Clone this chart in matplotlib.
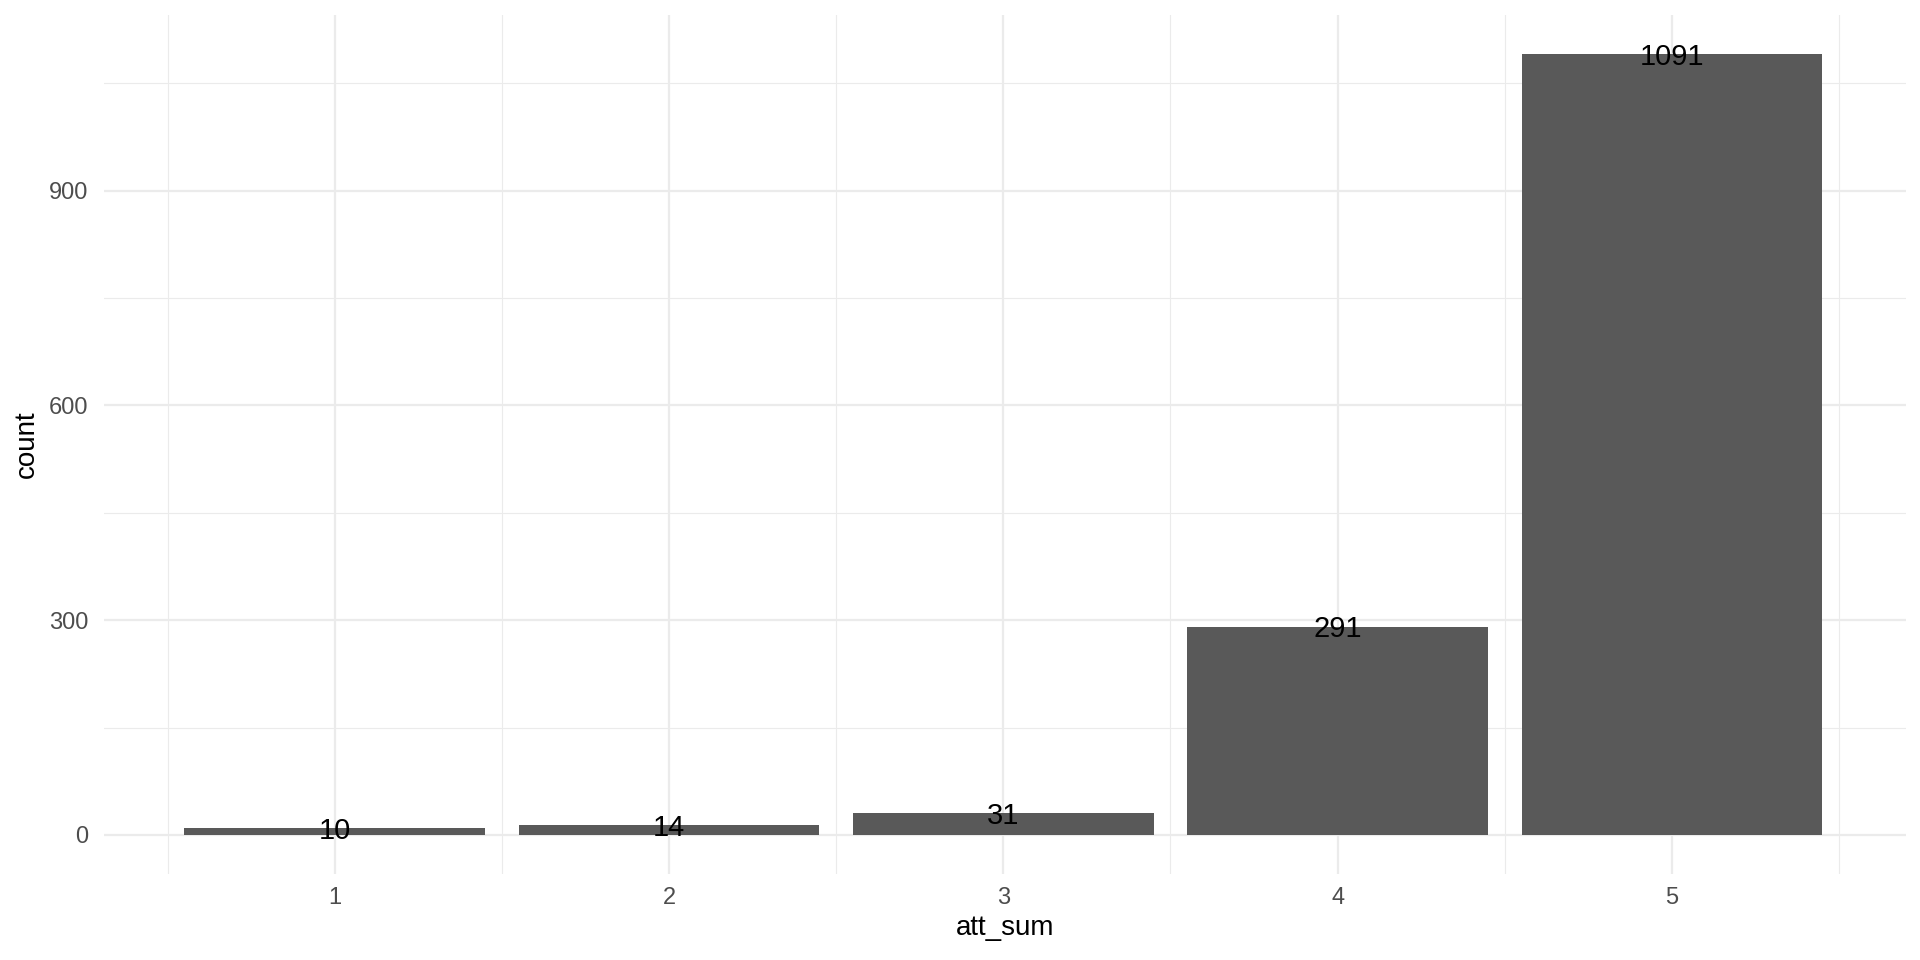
import matplotlib
matplotlib.use('Agg')
import matplotlib.pyplot as plt
import numpy as np

# Data
att_sum = [1, 2, 3, 4, 5]
counts = [10, 14, 31, 291, 1091]
y_ticks = [0, 300, 600, 900]

plt.rcParams['font.family'] = ['Liberation Sans', 'DejaVu Sans']

fig = plt.figure(figsize=(19.2, 9.6), dpi=100)
ax = fig.add_axes([104 / 1920, 1 - 874 / 960, 1802 / 1920, 859 / 960])

ymax = max(counts)
ax.set_ylim(-0.05 * ymax, 1.05 * ymax)
ax.set_xlim(0.31, 5.7)

# grid (ggplot theme_minimal look)
ax.set_axisbelow(True)
ax.set_yticks(y_ticks)
ax.set_yticks([150, 450, 750, 1050], minor=True)
ax.set_xticks(att_sum)
ax.set_xticks(np.arange(0.5, 6.0, 1.0), minor=True)
ax.grid(which='major', color='#EBEBEB', linewidth=1.6)
ax.grid(which='minor', color='#EBEBEB', linewidth=0.8)
ax.tick_params(which='both', length=0)
ax.tick_params(axis='y', pad=11.5, labelsize=17, labelcolor='#4D4D4D')
ax.tick_params(axis='x', pad=9, labelsize=17, labelcolor='#4D4D4D')
for s in ax.spines.values():
    s.set_visible(False)

ax.bar(att_sum, counts, width=0.9, color='#595959', zorder=2)
for x, c in zip(att_sum, counts):
    ax.annotate(str(c), (x, c), xytext=(0, -2), textcoords='offset points',
                ha='center', va='center', fontsize=21, color='black', zorder=3)

ax.set_xlabel('att_sum', fontsize=20)
ax.set_ylabel('count', fontsize=20)
ax.xaxis.set_label_coords(0.5, (874 - 928) / 859)
ax.xaxis.label.set_va('center')
ax.yaxis.set_label_coords((27 - 104) / 1802, 0.5)
ax.yaxis.label.set_va('center')

fig.savefig('out.png', dpi=100, facecolor='white')
